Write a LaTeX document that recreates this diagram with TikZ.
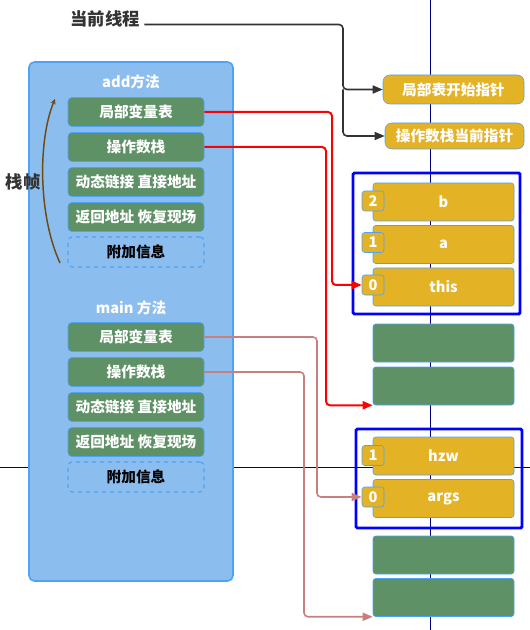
\documentclass[tikz,border=0pt]{standalone}
\usepackage{fontspec}
\setmainfont{Noto Sans CJK SC}
\usetikzlibrary{arrows.meta}

\definecolor{panelblue}{RGB}{139,190,238}
\definecolor{edgeblue}{RGB}{77,163,245}
\definecolor{slotgreen}{RGB}{94,145,101}
\definecolor{slotyellow}{RGB}{228,178,37}
\definecolor{linkpink}{RGB}{201,127,127}
\definecolor{arcbrown}{RGB}{110,75,19}
\definecolor{textdark}{RGB}{51,51,51}
\definecolor{axisnavy}{RGB}{0,0,128}

\tikzset{
  boxfont/.style={font=\fontsize{11}{13}\selectfont\bfseries},
  methodbox/.style={boxfont, draw=edgeblue, fill=slotgreen, rounded corners=3pt, minimum width=102pt, minimum height=21.75pt, inner sep=0pt, text=white},
  extrabox/.style={boxfont, draw=edgeblue, dashed, line width=0.9pt, fill=panelblue, rounded corners=3pt, minimum width=102pt, minimum height=22.5pt, inner sep=0pt, text=black},
  slotbox/.style={boxfont, draw=edgeblue, rounded corners=2pt, minimum width=105.75pt, minimum height=28.5pt, inner sep=0pt, text=white},
  idxbox/.style={boxfont, draw=edgeblue, fill=slotyellow, rounded corners=2pt, minimum width=16.5pt, minimum height=15pt, inner sep=0pt, text=white},
  ptrbox/.style={boxfont, draw=edgeblue, fill=slotyellow, rounded corners=5pt, inner sep=0pt, text=white},
  bigtext/.style={font=\fontsize{13}{15}\selectfont\bfseries, text=textdark},
  headtext/.style={boxfont, text=white},
  tip/.style={-{Triangle[length=7.5pt,width=6pt]}},
}

\begin{document}
\begin{tikzpicture}[x=0.75pt,y=0.75pt,yscale=-1,xscale=1]
\useasboundingbox (0,0) rectangle (530,630);

%Straight Lines: cross lines
\draw[axisnavy, line width=0.75pt] (430,0) -- (430,630);
\draw[axisnavy, line width=0.75pt] (0,467) -- (530,467);

%Shape: Rectangle, stack panel
\draw[edgeblue, fill=panelblue, line width=1.2pt, rounded corners=4pt] (29,62) rectangle (233,581);

% Text Node
\node[bigtext] (thread) at (105,18.5) {当前线程};
\node[bigtext] (stackframe) at (23,182) {栈帧};
\node[headtext] (addhead) at (131,82) {add方法};
\node[headtext] (mainhead) at (131,308) {main 方法};

%add frame
\node[methodbox] (addlv) at (136,112) {局部变量表};
\node[methodbox] (addop) at (136,147) {操作数栈};
\node[methodbox] (adddl) at (136,182) {动态链接 直接地址};
\node[methodbox] (addret) at (136,217) {返回地址 恢复现场};
\node[extrabox] (addext) at (136,252) {附加信息};

%main frame
\node[methodbox] (mainlv) at (136,337) {局部变量表};
\node[methodbox] (mainop) at (136,372) {操作数栈};
\node[methodbox] (maindl) at (136,407) {动态链接 直接地址};
\node[methodbox] (mainret) at (136,442) {返回地址 恢复现场};
\node[extrabox] (mainext) at (136,477) {附加信息};

%pointers
\node[ptrbox, minimum width=105.75pt, minimum height=21.75pt] (ptrlv) at (453.5,89.5) {局部表开始指针};
\node[ptrbox, minimum width=104.25pt, minimum height=19.5pt] (ptrop) at (454.5,136) {操作数栈当前指针};

%Shape: Rectangle, local variable tables
\draw[blue, line width=2.2pt, rounded corners=1pt] (353,173) rectangle (520,314);
\draw[blue, line width=2.2pt, rounded corners=1pt] (356,429) rectangle (522,528);

%slots
\node[slotbox, fill=slotyellow] (slotb) at (443.5,202) {b};
\node[slotbox, fill=slotyellow] (slota) at (443.5,244.5) {a};
\node[slotbox, fill=slotyellow] (slotthis) at (443.5,287) {this};
\node[slotbox, fill=slotgreen] (gslot1) at (443.5,343) {};
\node[slotbox, fill=slotgreen] (gslot2) at (443.5,386) {};
\node[slotbox, fill=slotyellow] (slothzw) at (443.5,456) {hzw};
\node[slotbox, fill=slotyellow] (slotargs) at (443.5,498.5) {args};
\node[slotbox, fill=slotgreen] (gslot3) at (443.5,555) {};
\node[slotbox, fill=slotgreen] (gslot4) at (443.5,597.5) {};

\node[idxbox] (idxb) at (373,201) {2};
\node[idxbox] (idxa) at (373,242.5) {1};
\node[idxbox] (idxthis) at (373,285) {0};
\node[idxbox] (idxhzw) at (373,455.5) {1};
\node[idxbox] (idxargs) at (373,497) {0};

%bends
\coordinate (tbend) at (343,0);
\coordinate (rbendA) at (332,0);
\coordinate (rbendB) at (326,0);
\coordinate (pbendA) at (317,0);
\coordinate (pbendB) at (304,0);

%Straight Lines: current thread
\draw[tip, textdark, line width=1.2pt, rounded corners=3pt] ([yshift=4.5pt]thread.east) -| (tbend |- ptrlv.west) -- (ptrlv.west);
\draw[tip, textdark, line width=1.2pt, rounded corners=3pt] (tbend |- ptrlv.west) |- (ptrop.west);

%Straight Lines: add frame
\draw[tip, red, line width=1.5pt, rounded corners=3pt] (addlv.east) -| (rbendA |- idxthis.west) -- (idxthis.west);
\draw[tip, red, line width=1.5pt, rounded corners=3pt] (addop.east) -| (rbendB |- gslot2.south west) -- (gslot2.south west);

%Straight Lines: main frame
\draw[tip, linkpink, line width=1.2pt, rounded corners=3pt] (mainlv.east) -| (pbendA |- idxargs.west) -- (idxargs.west);
\draw[tip, linkpink, line width=1.2pt, rounded corners=3pt] (mainop.east) -| (pbendB |- gslot4.south west) -- (gslot4.south west);

%Curve: stack frame
\coordinate (arcbot) at (60,263);
\coordinate (arctop) at (55,99);
\draw[-{Stealth[length=4pt,width=4pt]}, arcbrown, line width=1.1pt] (arcbot) .. controls (38,215) and (38,140) .. (arctop);

\end{tikzpicture}
\end{document}
